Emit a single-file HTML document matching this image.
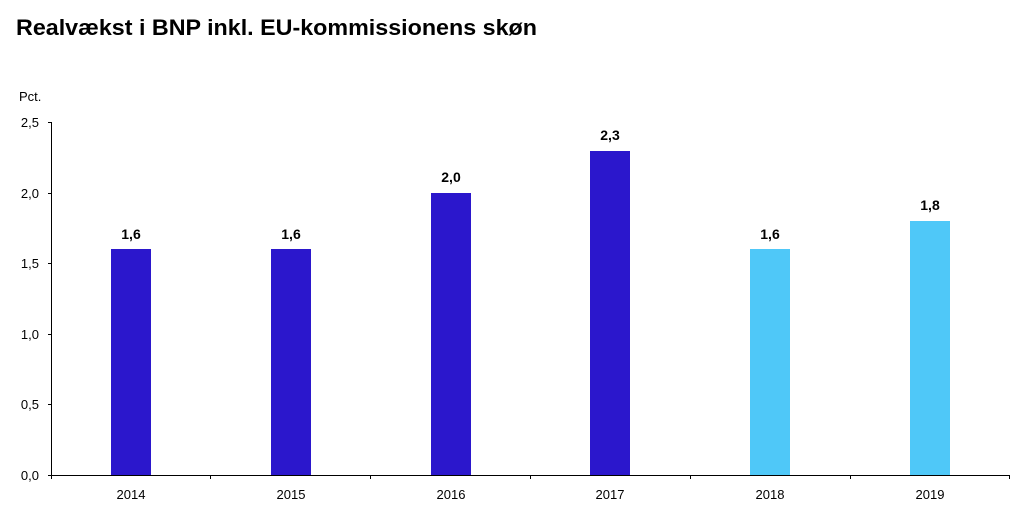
<!DOCTYPE html><html><head><style>body{margin:0;background:#fff}</style></head><body>
<svg width="1033" height="512" xmlns="http://www.w3.org/2000/svg" font-family="Liberation Sans, sans-serif">
<text x="16" y="35" font-size="22" font-weight="bold" fill="#000" textLength="521" lengthAdjust="spacingAndGlyphs">Realvækst i BNP inkl. EU-kommissionens skøn</text>
<text x="19" y="101" font-size="13" fill="#000">Pct.</text>
<g font-size="13" fill="#000" text-anchor="end">
<text x="39" y="127">2,5</text><text x="39" y="198">2,0</text><text x="39" y="268">1,5</text>
<text x="39" y="339">1,0</text><text x="39" y="409">0,5</text><text x="39" y="480">0,0</text></g>
<g stroke="#000" stroke-width="1">
<line x1="51.5" y1="122" x2="51.5" y2="476"/>
<line x1="51" y1="475.5" x2="1010" y2="475.5"/>
<line x1="48" y1="122.5" x2="51" y2="122.5"/><line x1="48" y1="193.5" x2="51" y2="193.5"/><line x1="48" y1="263.5" x2="51" y2="263.5"/><line x1="48" y1="334.5" x2="51" y2="334.5"/><line x1="48" y1="404.5" x2="51" y2="404.5"/><line x1="48" y1="475.5" x2="51" y2="475.5"/>
<line x1="51.5" y1="475" x2="51.5" y2="479"/><line x1="210.5" y1="475" x2="210.5" y2="479"/><line x1="370.5" y1="475" x2="370.5" y2="479"/><line x1="530.5" y1="475" x2="530.5" y2="479"/><line x1="690.5" y1="475" x2="690.5" y2="479"/><line x1="850.5" y1="475" x2="850.5" y2="479"/><line x1="1009.5" y1="475" x2="1009.5" y2="479"/>
</g>
<g>
<rect x="111" y="249" width="40" height="226" fill="#2b17cc"/>
<rect x="271" y="249" width="40" height="226" fill="#2b17cc"/>
<rect x="431" y="193" width="40" height="282" fill="#2b17cc"/>
<rect x="590" y="151" width="40" height="324" fill="#2b17cc"/>
<rect x="750" y="249" width="40" height="226" fill="#4fc8f8"/>
<rect x="910" y="221" width="40" height="254" fill="#4fc8f8"/>
</g>
<g font-size="14" font-weight="bold" text-anchor="middle" fill="#000">
<text x="131" y="239">1,6</text><text x="291" y="239">1,6</text><text x="451" y="182">2,0</text>
<text x="610" y="140">2,3</text><text x="770" y="239">1,6</text><text x="930" y="210">1,8</text></g>
<g font-size="13" text-anchor="middle" fill="#000">
<text x="131" y="499">2014</text><text x="291" y="499">2015</text><text x="451" y="499">2016</text>
<text x="610" y="499">2017</text><text x="770" y="499">2018</text><text x="930" y="499">2019</text></g>
</svg></body></html>
